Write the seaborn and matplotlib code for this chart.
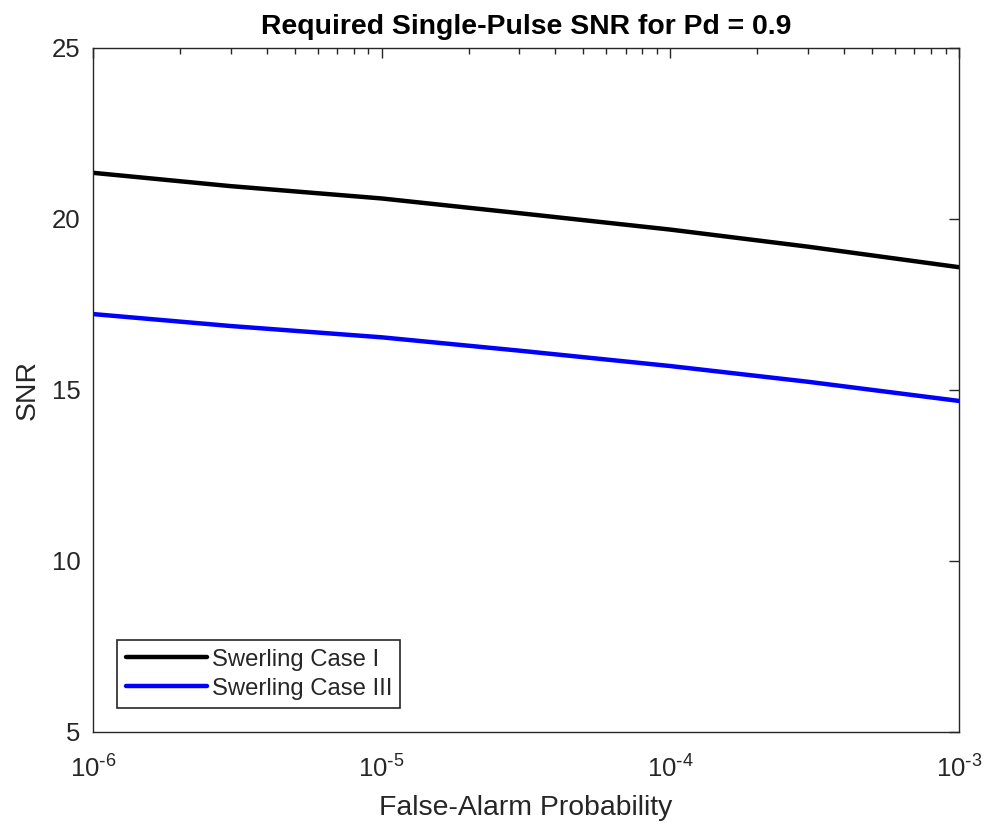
import matplotlib
matplotlib.use('Agg')

import numpy as np
import pandas as pd
import matplotlib.pyplot as plt
import seaborn as sns
from matplotlib.ticker import LogLocator, NullFormatter, FixedLocator, FuncFormatter

# values
pfa = [1e-6, 3e-6, 1e-5, 3e-5, 1e-4, 3e-4, 1e-3]
snr_case1 = [21.35, 20.96, 20.60, 20.17, 19.69, 19.19, 18.59]
snr_case3 = [17.22, 16.87, 16.54, 16.15, 15.70, 15.24, 14.68]
case_names = ['Swerling Case I', 'Swerling Case III']
case_colors = ['#000000', '#0000ff']
y_ticks = [5, 10, 15, 20, 25]

sns.set_style('white')
plt.rcParams['font.family'] = ['Liberation Sans', 'DejaVu Sans']
plt.rcParams['mathtext.default'] = 'regular'
plt.rcParams['axes.unicode_minus'] = False

df = pd.DataFrame({
    'pfa': pfa * 2,
    'snr': snr_case1 + snr_case3,
    'case': [case_names[0]] * len(pfa) + [case_names[1]] * len(pfa),
})

fig = plt.figure(figsize=(9.88, 8.23), dpi=100)
ax = fig.add_axes([0.0941, 0.1106, 0.8765, 0.8311])

sns.lineplot(data=df, x='pfa', y='snr', hue='case', hue_order=case_names,
             palette=case_colors, linewidth=3.2, ax=ax)


def pow10_label(v, pos):
    # MATLAB style 10^-n with a plain hyphen in the exponent
    k = int(round(np.log10(v)))
    sign = r'\text{-}' if k < 0 else ''
    return r'$10^{%s%d}$' % (sign, abs(k))


ax.set_xscale('log')
ax.set_xlim(1e-6, 1e-3)
ax.set_ylim(5, 25)
ax.yaxis.set_major_locator(FixedLocator(y_ticks))
ax.xaxis.set_major_locator(LogLocator(base=10))
ax.xaxis.set_major_formatter(FuncFormatter(pow10_label))
ax.xaxis.set_minor_locator(LogLocator(base=10, subs=np.arange(2, 10)))
ax.xaxis.set_minor_formatter(NullFormatter())

edge = '#262626'
for s in ax.spines.values():
    s.set_visible(True)
    s.set_color(edge)
    s.set_linewidth(1.0)

ax.tick_params(which='both', direction='in', top=True, right=True,
               colors=edge, labelsize=18.5, width=1.0)
ax.tick_params(which='major', length=7)
ax.tick_params(which='minor', length=4)
ax.tick_params(axis='x', pad=17)
ax.tick_params(axis='y', pad=9)

ax.set_xlabel('False-Alarm Probability', fontsize=20.4, color=edge, labelpad=9)
ax.set_ylabel('SNR', fontsize=20.4, color=edge, labelpad=8)
ax.set_title('Required Single-Pulse SNR for Pd = 0.9', fontsize=20.4,
             fontweight='bold', color='black', pad=10)

leg = ax.legend(loc='lower left', bbox_to_anchor=(0.028, 0.035), fontsize=17.2,
                frameon=True, fancybox=False, framealpha=1, edgecolor=edge,
                handlelength=3.4, handletextpad=0.2, borderpad=0.35,
                labelspacing=0.3, borderaxespad=0)
leg.get_frame().set_linewidth(1.2)

fig.savefig('out.png', dpi=100)
